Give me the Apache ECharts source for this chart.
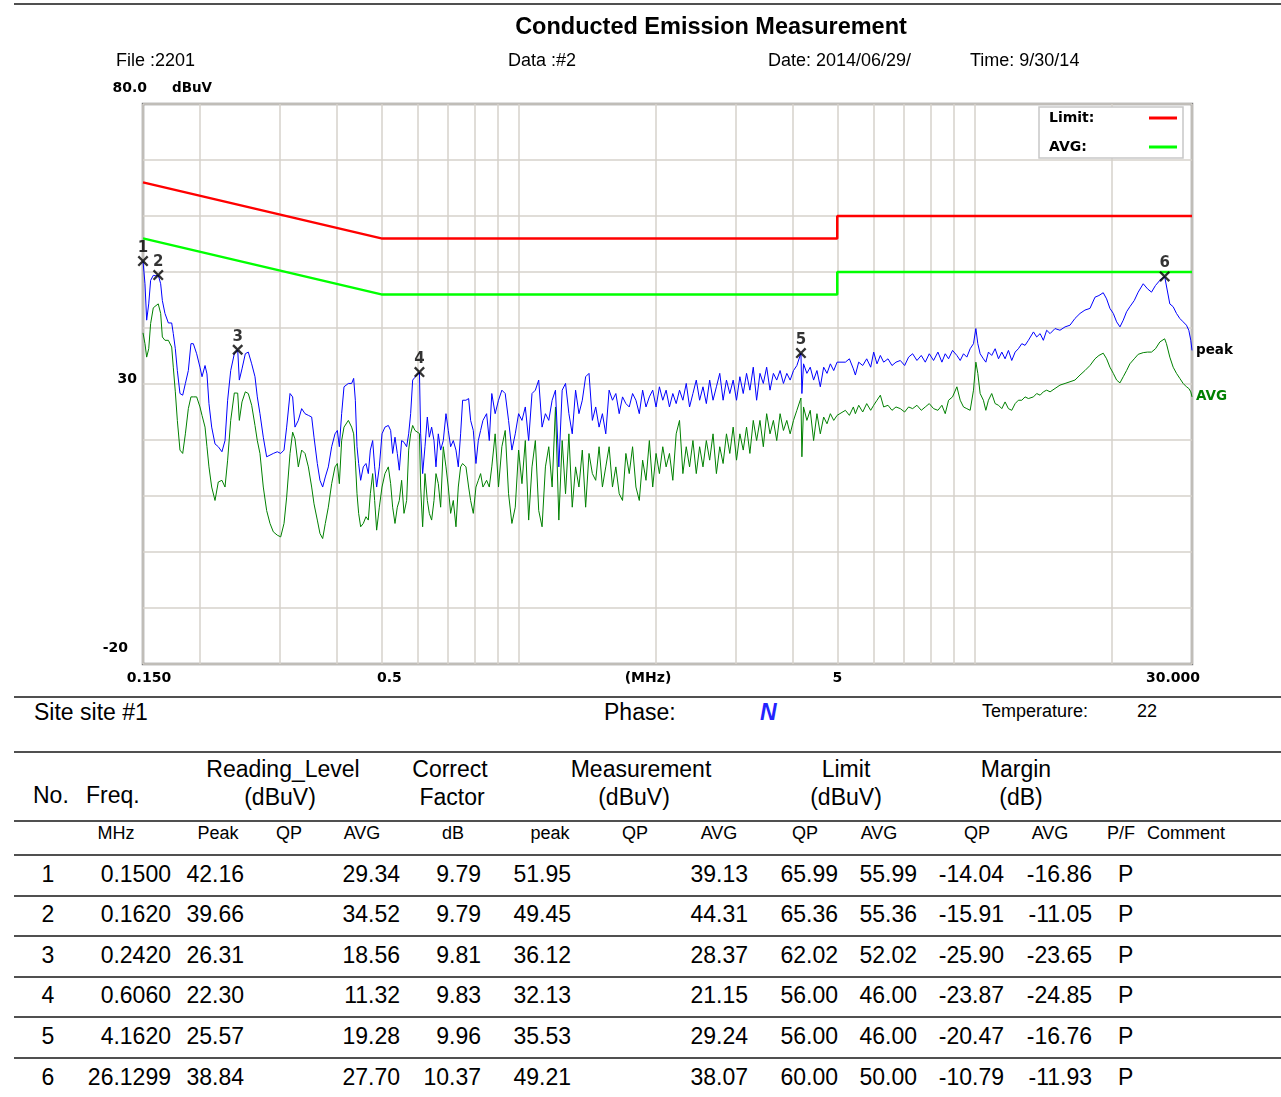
<!DOCTYPE html>
<html><head><meta charset="utf-8">
<script src="https://cdn.jsdelivr.net/npm/echarts@6/dist/echarts.min.js"></script>
<style>
html,body{margin:0;padding:0;background:#fff;}
#page{position:relative;width:1281px;height:1097px;overflow:hidden;font-family:'Liberation Sans',Arial,sans-serif;color:#000;background:#fff;}
#chart{position:absolute;left:0;top:0;width:1281px;height:697px;}
.t{position:absolute;white-space:nowrap;line-height:1;}
.hl{position:absolute;left:14px;right:0;height:2px;background:#505050;}
</style></head><body><div id="page"><div id="chart"></div></div>
<script>
// ---------------- data ----------------
const freqMHz = [
0.1500,0.1515,0.1528,0.1544,0.1559,0.1580,0.1602,0.1620,0.1640,0.1654,
0.1676,0.1705,0.1734,0.1748,0.1766,0.1784,0.1808,0.1833,0.1858,0.1886,
0.1911,0.1934,0.1967,0.2000,0.2021,0.2052,0.2072,0.2093,0.2122,0.2158,
0.2194,0.2235,0.2270,0.2300,0.2336,0.2379,0.2420,0.2440,0.2473,0.2515,
0.2553,0.2597,0.2641,0.2672,0.2708,0.2754,0.2801,0.2849,0.2897,0.2956,
0.3007,0.3058,0.3099,0.3152,0.3194,0.3232,0.3287,0.3343,0.3400,0.3458,
0.3516,0.3558,0.3618,0.3667,0.3717,0.3767,0.3825,0.3890,0.3956,0.4003,
0.4044,0.4091,0.4140,0.4232,0.4303,0.4347,0.4384,0.4421,0.4458,0.4503,
0.4564,0.4626,0.4681,0.4729,0.4785,0.4833,0.4882,0.4949,0.5016,0.5092,
0.5179,0.5240,0.5293,0.5356,0.5419,0.5474,0.5539,0.5605,0.5681,0.5739,
0.5797,0.5856,0.5925,0.6060,0.6097,0.6159,0.6232,0.6306,0.6370,0.6445,
0.6522,0.6588,0.6666,0.6745,0.6836,0.6929,0.7011,0.7094,0.7190,0.7288,
0.7374,0.7461,0.7537,0.7665,0.7769,0.7848,0.7954,0.8062,0.8158,0.8254,
0.8352,0.8508,0.8624,
0.8733,0.8883,0.9035,0.9189,0.9346,0.9505,0.9667,0.9832,1.0000,1.0171,
1.0344,1.0521,1.0700,1.0883,1.1069,1.1258,1.1450,1.1646,1.1845,1.2047,
1.2253,1.2462,1.2675,1.2892,1.3112,1.3335,1.3563,1.3795,1.4030,1.4270,
1.4514,1.4762,1.5014,1.5270,1.5531,1.5796,1.6066,1.6341,1.6620,1.6904,
1.7192,1.7486,1.7783,1.8087,1.8396,1.8710,1.9030,1.9355,1.9686,2.0022,
2.0364,2.0712,2.1066,2.1425,2.1791,2.2164,2.2542,2.2927,2.3319,2.3714,
2.4120,2.4532,2.4951,2.5377,2.5810,2.6251,2.6700,2.7156,2.7620,2.8092,
2.8571,2.9059,2.9556,3.0060,3.0574,3.1096,3.1623,3.2163,3.2713,3.3272,
3.3840,3.4418,3.5006,3.5604,3.6213,3.6831,3.7460,3.8100,3.8752,3.9413,
4.0087,4.0772,4.1620,4.1822,4.2170,4.2890,4.3623,4.4369,4.5127,4.5898,
4.6683,4.7480,4.8291,4.9117,4.9956,
5.210,5.316,5.424,5.479,5.572,5.686,5.802,5.920,6.010,6.112,
6.216,6.321,6.461,6.592,6.727,6.875,7.027,7.170,7.316,7.478,
7.643,7.799,7.958,8.133,8.313,8.482,8.626,8.773,8.951,9.149,
9.304,9.461,9.621,9.784,9.950,10.07,10.17,10.29,10.46,10.59,
10.73,10.91,11.10,11.29,11.48,11.67,11.87,12.07,12.28,12.48,
12.70,12.91,13.13,13.47,13.69,13.93,14.16,14.40,14.65,15.02,
15.40,15.80,16.20,16.61,17.04,17.47,17.92,18.38,18.75,19.16,
19.49,19.82,20.16,20.50,20.85,21.20,21.56,21.92,22.41,22.86,
23.45,23.96,24.45,24.95,25.50,26.13,26.37,26.82,27.28,27.74,
28.21,28.69,29.17,29.52,29.82,30.00
];
const peakLevel = [
51.95,47.9,41.4,44.3,48.5,49.4,49.3,49.45,47.9,44.9,
42.6,40.9,40.9,39.0,36.3,32.4,28.3,28.0,30.1,32.4,
37.2,37.2,35.4,33.0,31.3,33.3,31.8,26.5,22.3,19.3,
18.8,17.9,19.9,27.1,32.4,35.4,36.12,30.7,32.7,35.4,
35.7,33.6,31.3,27.7,24.7,20.5,17.0,17.3,17.6,17.9,
17.6,18.2,22.3,28.3,27.7,22.3,23.5,25.6,24.7,24.4,
24.1,20.5,15.8,12.8,11.6,13.4,15.2,18.8,21.1,21.7,
18.8,24.7,29.5,30.1,30.1,31.0,27.1,18.8,15.8,12.8,
15.2,15.8,14.0,18.2,19.9,15.2,11.6,15.2,21.1,22.3,
22.6,21.7,17.6,20.5,17.6,14.6,19.9,19.6,18.8,21.1,
24.7,30.7,31.2,32.13,21.1,14.0,18.8,24.1,20.5,22.3,
19.9,15.2,21.1,18.2,19.9,24.7,21.7,18.8,19.9,18.2,
15.2,21.1,27.1,27.1,27.4,23.5,21.7,15.8,19.9,21.7,
23.5,24.7,19.9,
28.3,24.7,27.1,28.9,28.3,23.5,18.2,21.1,24.7,23.5,
25.9,19.9,28.3,28.9,30.7,22.3,24.7,23.5,27.1,28.9,
15.2,28.9,30.1,24.7,21.1,28.9,24.7,27.1,31.3,31.9,
23.5,25.9,22.3,24.7,21.1,28.9,27.1,28.3,24.7,27.7,
26.5,25.9,28.3,27.1,24.7,28.9,25.9,27.7,28.9,25.9,
29.5,27.1,28.9,25.9,28.3,26.5,28.9,27.1,30.1,25.9,
28.3,30.7,27.1,29.5,26.5,30.7,27.1,29.5,31.9,27.1,
30.7,28.3,30.7,27.1,31.3,28.3,31.9,28.9,33.0,27.1,
31.9,30.1,33.0,28.9,31.9,30.7,32.4,30.1,31.9,30.7,
32.4,33.3,35.53,28.3,33.6,31.9,33.0,30.7,32.4,29.5,
33.0,31.9,33.6,32.4,33.9,
33.9,34.5,32.7,31.6,33.9,33.3,34.5,33.0,35.7,33.6,
35.1,33.9,34.5,33.3,33.9,34.2,33.3,34.8,35.4,34.2,
35.1,33.9,35.4,34.2,35.7,33.9,35.4,34.5,36.0,35.1,
34.2,35.4,34.8,36.3,37.2,39.9,37.2,35.4,34.5,33.9,
35.7,35.1,36.3,34.5,35.7,34.5,36.0,34.2,35.7,36.3,
37.2,36.9,37.8,39.3,38.4,39.0,37.8,39.6,39.0,39.9,
39.6,40.2,40.5,41.7,42.6,43.2,43.5,45.5,45.8,46.3,
45.2,43.5,42.6,41.1,40.2,41.4,42.9,43.8,44.9,46.4,
47.9,47.0,46.4,47.6,48.5,49.21,48.9,44.3,43.8,42.6,
41.7,41.1,40.5,39.6,37.8,36.0
];
const avgLevel = [
39.13,37.2,34.8,36.3,40.8,43.6,44.0,44.31,42.6,38.4,
37.8,37.8,36.6,33.0,28.6,23.5,18.2,17.6,21.1,25.6,
27.7,27.7,27.7,25.9,24.4,22.3,18.8,15.2,11.6,9.2,
12.5,12.8,11.6,16.4,23.5,28.4,28.37,23.5,26.8,28.6,
28.3,26.2,22.6,19.9,17.6,11.6,7.4,5.1,3.6,3.0,
2.7,5.1,9.8,17.6,21.4,20.2,15.2,18.2,17.6,15.2,
11.6,8.6,5.7,3.3,2.4,5.1,8.0,12.2,15.2,15.8,
12.2,19.9,22.3,23.5,22.3,21.1,16.4,10.4,6.9,4.5,
5.1,6.3,5.7,10.4,14.0,9.2,3.9,8.0,11.6,14.0,
15.2,12.2,8.0,5.1,8.0,9.2,12.8,6.9,9.2,18.2,
21.1,22.6,21.7,21.15,11.6,4.5,14.0,9.2,6.9,5.7,
9.2,14.0,12.2,8.0,18.8,15.2,11.6,6.9,9.2,4.5,
11.6,15.2,15.8,15.2,11.6,9.2,6.9,11.6,12.8,14.0,
11.6,12.8,11.6,
15.2,21.1,11.6,18.8,21.7,10.4,5.1,8.0,18.2,12.2,
19.9,5.7,15.2,19.9,7.4,4.5,15.2,18.8,11.6,25.9,
5.7,19.9,10.4,21.1,8.0,15.2,11.6,18.2,8.0,17.6,
14.0,12.8,18.8,11.6,15.2,18.8,11.6,15.2,10.4,9.2,
17.6,14.0,18.8,11.6,9.2,16.4,12.8,19.9,11.6,17.6,
14.0,18.8,15.2,17.6,12.8,21.1,23.5,14.0,18.8,15.2,
19.9,14.0,18.8,15.2,19.9,16.4,21.1,14.0,18.8,15.8,
21.1,17.6,22.3,16.4,21.1,18.2,22.3,17.6,23.5,19.9,
23.5,18.8,24.7,21.1,23.5,19.9,24.7,21.7,23.5,21.1,
23.5,25.3,27.5,17.0,25.9,23.5,25.3,19.9,24.7,21.1,
24.1,22.9,24.7,23.5,24.4,
25.3,24.4,25.9,24.7,26.2,25.0,26.5,25.3,26.2,27.1,
28.0,25.9,26.2,25.3,25.9,25.6,25.0,25.9,25.6,26.2,
25.3,25.9,26.5,25.6,25.3,26.2,24.7,27.1,27.7,29.5,
27.1,25.9,25.6,25.3,28.9,33.9,31.9,28.3,27.1,25.3,
27.1,28.3,26.5,26.2,25.6,26.8,25.6,25.3,26.5,27.1,
27.1,27.7,27.4,27.7,28.3,28.0,28.6,28.9,28.6,29.2,
29.8,30.1,30.4,30.7,31.6,32.4,33.3,34.5,35.1,35.5,
34.5,33.0,31.9,30.7,30.2,31.3,32.4,33.6,34.5,35.3,
35.6,35.7,35.7,36.3,37.5,38.07,37.2,34.8,33.0,31.9,
31.0,30.1,29.5,29.2,28.6,27.7
];
const limitFreq = [0.15, 0.5, 5, 5, 30];
const limitQP = [66, 56, 56, 60, 60];
const limitAVG = [56, 46, 46, 50, 50];
const markerFreq = [0.15, 0.162, 0.242, 0.606, 4.162, 26.1299];
const markerLevel = [51.95, 49.45, 36.12, 32.13, 35.53, 49.21];
const gridFreqs = [0.15,0.2,0.3,0.4,0.5,0.6,0.7,0.8,0.9,1,2,3,4,5,6,7,8,9,10,20,30];
const xTickValues = [0.15, 0.5, 5, 30];
const xTickLabels = ['0.150', '0.5', '5', '30.000'];
const yTickValues = [-20, 30, 80];
const yTickLabels = ['-20', '30', '80.0'];

// table data
const tNo = ['1','2','3','4','5','6'];
const tFreq = ['0.1500','0.1620','0.2420','0.6060','4.1620','26.1299'];
const tReadPeak = ['42.16','39.66','26.31','22.30','25.57','38.84'];
const tReadQP = ['','','','','',''];
const tReadAvg = ['29.34','34.52','18.56','11.32','19.28','27.70'];
const tFactor = ['9.79','9.79','9.81','9.83','9.96','10.37'];
const tMeasPeak = ['51.95','49.45','36.12','32.13','35.53','49.21'];
const tMeasQP = ['','','','','',''];
const tMeasAvg = ['39.13','44.31','28.37','21.15','29.24','38.07'];
const tLimQP = ['65.99','65.36','62.02','56.00','56.00','60.00'];
const tLimAvg = ['55.99','55.36','52.02','46.00','46.00','50.00'];
const tMarQP = ['-14.04','-15.91','-25.90','-23.87','-20.47','-10.79'];
const tMarAvg = ['-16.86','-11.05','-23.65','-24.85','-16.76','-11.93'];
const tPF = ['P','P','P','P','P','P'];
const subHeaders = ['MHz','Peak','QP','AVG','dB','peak','QP','AVG','QP','AVG','QP','AVG','P/F','Comment'];

// ---------------- page text ----------------
const page = document.getElementById('page');
function put(text, x, y, o) {
  o = o || {};
  const d = document.createElement('div');
  d.className = 't';
  d.textContent = text;
  d.style.fontSize = (o.size || 18) + 'px';
  if (o.bold) d.style.fontWeight = 'bold';
  if (o.italic) d.style.fontStyle = 'italic';
  if (o.color) d.style.color = o.color;
  if (o.family) d.style.fontFamily = o.family;
  const tx = o.align === 'center' ? '-50%' : (o.align === 'right' ? '-100%' : '0');
  d.style.left = x + 'px';
  d.style.top = y + 'px';
  d.style.transform = 'translate(' + tx + ',-50%)';
  page.appendChild(d);
}
function hline(y, h) {
  const d = document.createElement('div');
  d.className = 'hl';
  d.style.top = (y - 1) + 'px';
  if (h) d.style.height = h + 'px';
  page.appendChild(d);
}
hline(4);
put('Conducted Emission Measurement', 711, 27, {size: 23.5, bold: true, align: 'center'});
put('File :2201', 116, 60, {size: 18});
put('Data :#2', 508, 60, {size: 18});
put('Date: 2014/06/29/', 768, 60, {size: 18});
put('Time: 9/30/14', 970, 60, {size: 18});

hline(697);
put('Site  site #1', 34, 712, {size: 23});
put('Phase:', 604, 712, {size: 23});
put('N', 760, 712, {size: 23, bold: true, italic: true, color: '#2323ff'});
put('Temperature:', 982, 711, {size: 18});
put('22', 1137, 711, {size: 18});
hline(752);
[['Reading_Level',283],['Correct',450],['Measurement',641],['Limit',846],['Margin',1016]].forEach(a => put(a[0], a[1], 769, {size: 23, align: 'center'}));
[['(dBuV)',280],['Factor',452],['(dBuV)',634],['(dBuV)',846],['(dB)',1021]].forEach(a => put(a[0], a[1], 797, {size: 23, align: 'center'}));
put('No.', 33, 795, {size: 23});
put('Freq.', 86, 795, {size: 23});
hline(821);
const subX = [116,218,289,362,453,550,635,719,805,879,977,1050,1121,1186];
subHeaders.forEach((s, i) => put(s, subX[i], 833, {size: 18, align: 'center'}));
hline(855);
const rowY = [874, 914, 955, 995, 1036, 1077];
const cols = [
  [tNo, 48, 'center'], [tFreq, 171, 'right'], [tReadPeak, 244, 'right'], [tReadQP, 300, 'right'],
  [tReadAvg, 400, 'right'], [tFactor, 481, 'right'], [tMeasPeak, 571, 'right'], [tMeasQP, 650, 'right'],
  [tMeasAvg, 748, 'right'], [tLimQP, 838, 'right'], [tLimAvg, 917, 'right'], [tMarQP, 1004, 'right'],
  [tMarAvg, 1092, 'right'], [tPF, 1118, 'left']
];
rowY.forEach((y, r) => {
  cols.forEach(c => { if (c[0][r]) put(c[0][r], c[1], y, {size: 23, align: c[2]}); });
  if (r < rowY.length - 1) hline(y + 22);
});

// ---------------- chart ----------------
const AX = 'DejaVu Sans';
const pairs = (xs, ys) => xs.map((x, i) => [x, ys[i]]);
const chart = echarts.init(document.getElementById('chart'));
chart.setOption({
  animation: false,
  grid: {left: 143, top: 104, width: 1049, height: 560, show: true, borderColor: '#808080', borderWidth: 2.5,
    containLabel: false, outerBoundsMode: 'none'},
  legend: {
    data: ['Limit:', 'AVG:'], orient: 'vertical', left: 1039, top: 107,
    align: 'right', icon: 'rect', itemWidth: 28, itemHeight: 3, itemGap: 15, selectedMode: false,
    formatter: n => '{n|' + n + '}',
    textStyle: {color: '#000', fontFamily: AX, fontWeight: 'bold', fontSize: 14,
      rich: {n: {width: 95, height: 15, align: 'left', color: '#000', fontFamily: AX, fontWeight: 'bold', fontSize: 14}}},
    backgroundColor: '#fff', borderColor: '#c8c8c8', borderWidth: 1.5, padding: [4, 6, 4, 10]
  },
  xAxis: {
    type: 'log', logBase: 10, min: 0.15, max: 30,
    axisLine: {show: false},
    axisTick: {show: false, customValues: gridFreqs},
    splitLine: {show: true, lineStyle: {color: '#d6d2cb', width: 1.5}},
    axisLabel: {
      customValues: xTickValues, margin: 7, color: '#000', fontFamily: AX, fontWeight: 'bold', fontSize: 14,
      formatter: v => { const i = xTickValues.findIndex(t => Math.abs(t - v) < 1e-6 * Math.max(1, t)); return i < 0 ? '' : '{l' + i + '|' + xTickLabels[i] + '}'; },
      rich: {l0: {padding: [0, 0, 0, 12]}, l1: {padding: [0, 0, 0, 16]}, l2: {}, l3: {padding: [0, 38, 0, 0]}}
    },
    name: '(MHz)', nameLocation: 'middle', nameGap: 7, nameMoveOverlap: false,
    nameTextStyle: {color: '#000', fontFamily: AX, fontWeight: 'bold', fontSize: 14, padding: [0, 39, 0, 0], verticalAlign: 'top'}
  },
  yAxis: {
    type: 'value', min: -20, max: 80, interval: 10,
    axisLine: {show: false}, axisTick: {show: false},
    splitLine: {show: true, lineStyle: {color: '#d6d2cb', width: 1.5}},
    axisLabel: {
      customValues: yTickValues, align: 'right', margin: -4, verticalAlign: 'middle',
      color: '#000', fontFamily: AX, fontWeight: 'bold', fontSize: 14,
      formatter: v => { const i = yTickValues.indexOf(v); return i < 0 ? '' : '{y' + i + '|' + yTickLabels[i] + '}'; },
      rich: {y0: {padding: [0, 19, 32, 0]}, y1: {padding: [0, 10, 10, 0]}, y2: {padding: [0, 0, 32, 0]}}
    },
    name: 'dBuV', nameLocation: 'end', nameGap: 9, nameMoveOverlap: false,
    nameTextStyle: {color: '#000', fontFamily: AX, fontWeight: 'bold', fontSize: 13.5, align: 'left', verticalAlign: 'bottom', padding: [0, 0, 0, 29]}
  },
  series: [
    {name: 'AVG trace', type: 'line', data: pairs(freqMHz, avgLevel), symbol: 'none', z: 2,
      lineStyle: {color: '#008000', width: 1}, itemStyle: {color: '#008000'},
      endLabel: {show: true, formatter: 'AVG', color: '#008000', fontFamily: AX, fontWeight: 'bold', fontSize: 13.5, distance: 4}},
    {name: 'peak trace', type: 'line', data: pairs(freqMHz, peakLevel), symbol: 'none', z: 3,
      lineStyle: {color: '#0000ff', width: 1}, itemStyle: {color: '#0000ff'},
      endLabel: {show: true, formatter: 'peak', color: '#000', fontFamily: AX, fontWeight: 'bold', fontSize: 13.5, distance: 4}},
    {name: 'Limit:', type: 'line', data: pairs(limitFreq, limitQP), symbol: 'none', z: 4,
      lineStyle: {color: '#ff0000', width: 2.5}, itemStyle: {color: '#ff0000'}},
    {name: 'AVG:', type: 'line', data: pairs(limitFreq, limitAVG), symbol: 'none', z: 4,
      lineStyle: {color: '#00ff00', width: 2.5}, itemStyle: {color: '#00ff00'}},
    {name: 'markers', type: 'scatter', data: pairs(markerFreq, markerLevel), z: 6, clip: false,
      symbol: 'path://M0,1.5L1.5,0L5,3.5L8.5,0L10,1.5L6.5,5L10,8.5L8.5,10L5,6.5L1.5,10L0,8.5L3.5,5Z',
      symbolSize: 11, itemStyle: {color: '#000'},
      label: {show: true, position: 'top', distance: 0, formatter: p => String(p.dataIndex + 1),
        color: '#000', fontFamily: AX, fontWeight: 'bold', fontSize: 15}}
  ]
});
</script></body></html>
